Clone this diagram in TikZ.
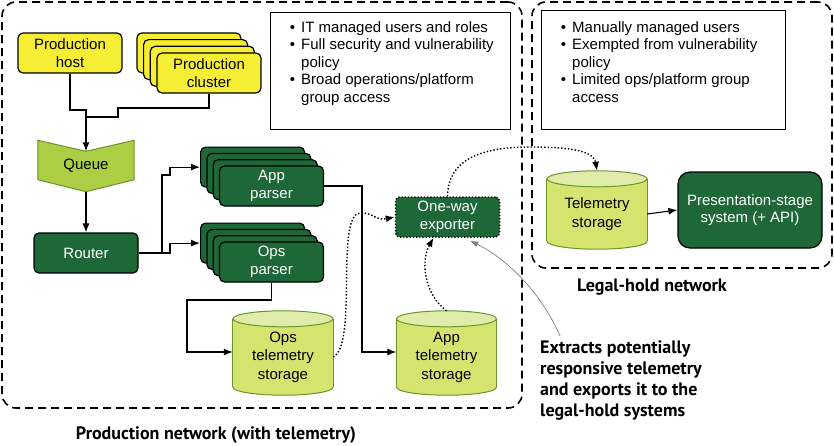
\documentclass[tikz,border=0pt]{standalone}
\usepackage{fontspec}
\setmainfont{Liberation Sans}
\newfontfamily\labelfont{PT Sans}
\usetikzlibrary{arrows.meta,backgrounds}

\definecolor{hostyellow}{RGB}{246,238,52}
\definecolor{darkgreen}{RGB}{30,104,56}
\definecolor{queuegreen}{RGB}{172,206,68}
\definecolor{storebody}{RGB}{212,228,110}
\definecolor{storetop}{RGB}{226,236,170}
\definecolor{storeline}{RGB}{104,150,44}

\begin{document}
\begin{tikzpicture}[x=1pt,y=-1pt,
  font=\fontsize{15}{17.5}\selectfont,
  every node/.style={inner sep=0pt, align=center},
  hostbox/.style={draw=black, line width=1.2pt, fill=hostyellow, rounded corners=5pt, minimum width=104pt, minimum height=40pt},
  greenbox/.style={draw=black, line width=1.2pt, fill=darkgreen, text=white, rounded corners=5pt, minimum width=104pt, minimum height=40pt},
  storebox/.style={minimum width=100pt, minimum height=76pt, font=\fontsize{15}{18.5}\selectfont},
  infobox/.style={draw=black, line width=1pt, minimum width=240pt, minimum height=117pt},
  netbox/.style={draw=black, dash pattern=on 8pt off 5pt, line width=1.6pt, rounded corners=14pt},
  netlabel/.style={font=\labelfont\bfseries\fontsize{18}{21}\selectfont},
  arr/.style={line width=1.1pt, -{Latex[length=9pt,width=7pt]}},
  dotarr/.style={line width=1.4pt, dotted, -{Latex[length=9pt,width=7pt]}},
]
\useasboundingbox (0,0) rectangle (834,445);

\node[netbox, minimum width=520pt, minimum height=406pt] (prodnet) at (262,205) {};
\node[netbox, minimum width=300pt, minimum height=266pt] (holdnet) at (682,135) {};
\node[netlabel] (prodlabel) at (216,435) {Production network (with telemetry)};
\node[netlabel] (holdlabel) at (652,287) {Legal-hold network};

\node[infobox] (itbox) at (390,70.5) {};
\node[anchor=north west, align=left] (ittext) at (301,21) {\llap{\textbullet\hspace{6pt}}IT managed users and roles\\
  \llap{\textbullet\hspace{6pt}}Full security and vulnerability\\ policy\\
  \llap{\textbullet\hspace{6pt}}Broad operations/platform\\ group access};
\node[infobox, minimum width=244pt, minimum height=119pt] (holdbox) at (663,69.5) {};
\node[anchor=north west, align=left] (holdtext) at (572,21) {\llap{\textbullet\hspace{6pt}}Manually managed users\\
  \llap{\textbullet\hspace{6pt}}Exempted from vulnerability\\ policy\\
  \llap{\textbullet\hspace{6pt}}Limited ops/platform group\\ access};

\node[hostbox] (host) at (70,53) {Production\\host};
\foreach \k in {3,2,1}
  \node[hostbox] (clusterback\k) at ({209-6.7*\k},{73-6.7*\k}) {};
\node[hostbox] (cluster) at (209,73) {Production\\cluster};

\node[minimum width=96pt, minimum height=51pt] (queue) at (86,166) {Queue};
\node[greenbox] (router) at (86,253) {Router};

\foreach \k in {3,2,1}
  \node[greenbox] (appback\k) at ({271.5-6.3*\k},{186-6.3*\k}) {};
\node[greenbox] (appparser) at (271.5,186) {App\\parser};
\foreach \k in {3,2,1}
  \node[greenbox] (opsback\k) at ({271.5-6.3*\k},{262-6.3*\k}) {};
\node[greenbox] (opsparser) at (271.5,262) {Ops\\parser};

\node[storebox] (opsstore) at (283,357) {Ops\\telemetry\\storage};
\node[storebox] (appstore) at (446.5,357) {App\\telemetry\\storage};
\node[storebox, minimum height=70pt] (holdstore) at (597,214) {Telemetry\\storage};

\node[greenbox, dotted, line width=1.5pt, rounded corners=4pt] (exporter) at (447.5,217) {One-way\\exporter};
\node[greenbox, minimum width=144pt, minimum height=76pt, rounded corners=12pt] (present) at (750,210) {Presentation-stage\\system (+ API)};

\node[anchor=north west, align=left, font=\labelfont\bfseries\fontsize{18}{21}\selectfont] (note) at (540,340) {Extracts potentially\\responsive telemetry\\and exports it to the\\legal-hold systems};

% shapes behind the text
\begin{scope}[on background layer]
\draw[fill=queuegreen, draw=storeline, line width=1pt] (queue.north west) -- ([yshift=-11pt]queue.north) -- (queue.north east) -- ([yshift=12pt]queue.south east) -- (queue.south) -- ([yshift=12pt]queue.south west) -- cycle;
\foreach \s in {opsstore,appstore,holdstore} {
  \fill[storebody, draw=storeline, line width=1pt] ([yshift=8pt]\s.south) ellipse [x radius=50pt, y radius=8pt];
  \fill[storebody] (\s.north west) rectangle ([yshift=8pt]\s.south east);
  \draw[storeline, line width=1pt] (\s.north west) -- ([yshift=8pt]\s.south west) (\s.north east) -- ([yshift=8pt]\s.south east);
  \draw[storeline, fill=storetop, line width=1pt] (\s.north) ellipse [x radius=50pt, y radius=8pt];
}
\end{scope}

\draw[arr] (host.south) |- (86,110) -- ([yshift=-11pt]queue.north);
\draw[line width=1.1pt] (cluster.south) |- (118,108) |- (86,117);
\draw[arr] (queue.south) -- (router.north);
\draw[arr] (router.east) -- (162,253) -- (162,175) -- (170,175) |- (appback3.west);
\draw[arr] (router.east) -- (170,253) |- (opsback3.west);
\draw[arr] (appparser.east) -| (362,330) |- ([yshift=5pt]appstore.west);
\draw[arr] (opsparser.south) |- (187,300) |- ([yshift=5pt]opsstore.west);

\draw[dotarr] (opsstore.east) .. controls (358,345) and (335,215) .. (360,213) .. controls (373,212) and (375,221) .. (exporter.west);
\draw[dotarr] ([yshift=8pt]appstore.north) .. controls (425,295) and (420,262) .. ([xshift=-14pt]exporter.south);
\draw[dotarr] (exporter.north) .. controls (448,160) and (480,147) .. (530,147) .. controls (575,147) and (594,152) .. ([yshift=8pt]holdstore.north);
\draw[arr] (holdstore.east) -- (present.west);
\draw[gray, line width=0.7pt, -{Latex[length=8pt,width=6pt]}] ([xshift=20pt,yshift=4pt]note.north west) .. controls (540,290) and (505,258) .. ([xshift=-30pt,yshift=-3pt]exporter.south east);
\end{tikzpicture}
\end{document}
